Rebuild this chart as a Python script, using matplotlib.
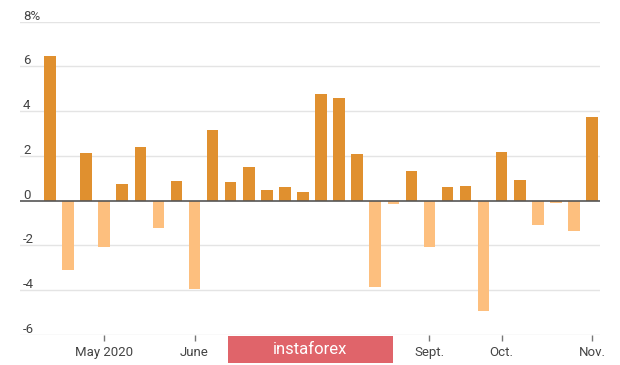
import matplotlib
matplotlib.use("Agg")
import matplotlib.pyplot as plt
from matplotlib.patches import Rectangle
import matplotlib.transforms as mtransforms
import numpy as np

plt.rcParams['font.family'] = ['Roboto', 'DejaVu Sans']

values = [6.45, -3.1, 2.15, -2.05, 0.75, 2.4, -1.22, 0.88, -3.96, 3.17,
          0.82, 1.5, 0.49, 0.63, 0.4, 4.75, 4.61, 2.08, -3.87, -0.16,
          1.35, -2.08, 0.63, 0.68, -4.91, 2.17, 0.92, -1.07, -0.12, -1.37, 3.75]
tick_pos = [3, 8, 21, 25, 30]
tick_labels = ["May 2020", "June", "Sept.", "Oct.", "Nov."]
y_ticks = [-6, -4, -2, 0, 2, 4, 6, 8]
y_labels = ["-6", "-4", "-2", "0", "2", "4", "6", "8%"]

pos_color = "#E0902F"
neg_color = "#FDBF7E"

W, H = 620, 365
fig = plt.figure(figsize=(W/100, H/100), dpi=100)
ax = fig.add_axes([20/W, 1-335/H, 580/W, (335-21.7)/H])

x = np.arange(len(values))
colors = [pos_color if v >= 0 else neg_color for v in values]
ax.bar(x, values, width=0.64, color=colors, zorder=2)

ax.set_xlim(-1.66, 30.44)
ax.set_ylim(-6, 8)

for yv in y_ticks:
    if yv == 0:
        ax.axhline(0, color="#555555", lw=1.2, zorder=3)
    else:
        ax.axhline(yv, color="#E4E4E4", lw=1.0, zorder=1)

for s in ax.spines.values():
    s.set_visible(False)
ax.set_yticks([])
ax.set_xticks(tick_pos)
ax.set_xticklabels(tick_labels, fontsize=9.5, color="#444444")
ax.tick_params(axis='x', length=4, width=1, color="#777777", pad=4)

trans = mtransforms.blended_transform_factory(fig.transFigure, ax.transData)
offset = mtransforms.ScaledTranslation(0, 2/100, fig.dpi_scale_trans)
for yv, lab in zip(y_ticks, y_labels):
    ax.text(23/W, yv, lab, transform=trans + offset, ha='left', va='baseline',
            fontsize=9.5, color="#444444")

# watermark
fig.patches.append(Rectangle((228/W, 1-363/H), 165/W, 27/H, transform=fig.transFigure,
                             facecolor="#E0646A", edgecolor="none", zorder=10))
fig.text(310/W, 1-349/H, "instaforex", ha='center', va='center', color="white",
         fontsize=12, zorder=11)

fig.savefig("out.png", dpi=100)
